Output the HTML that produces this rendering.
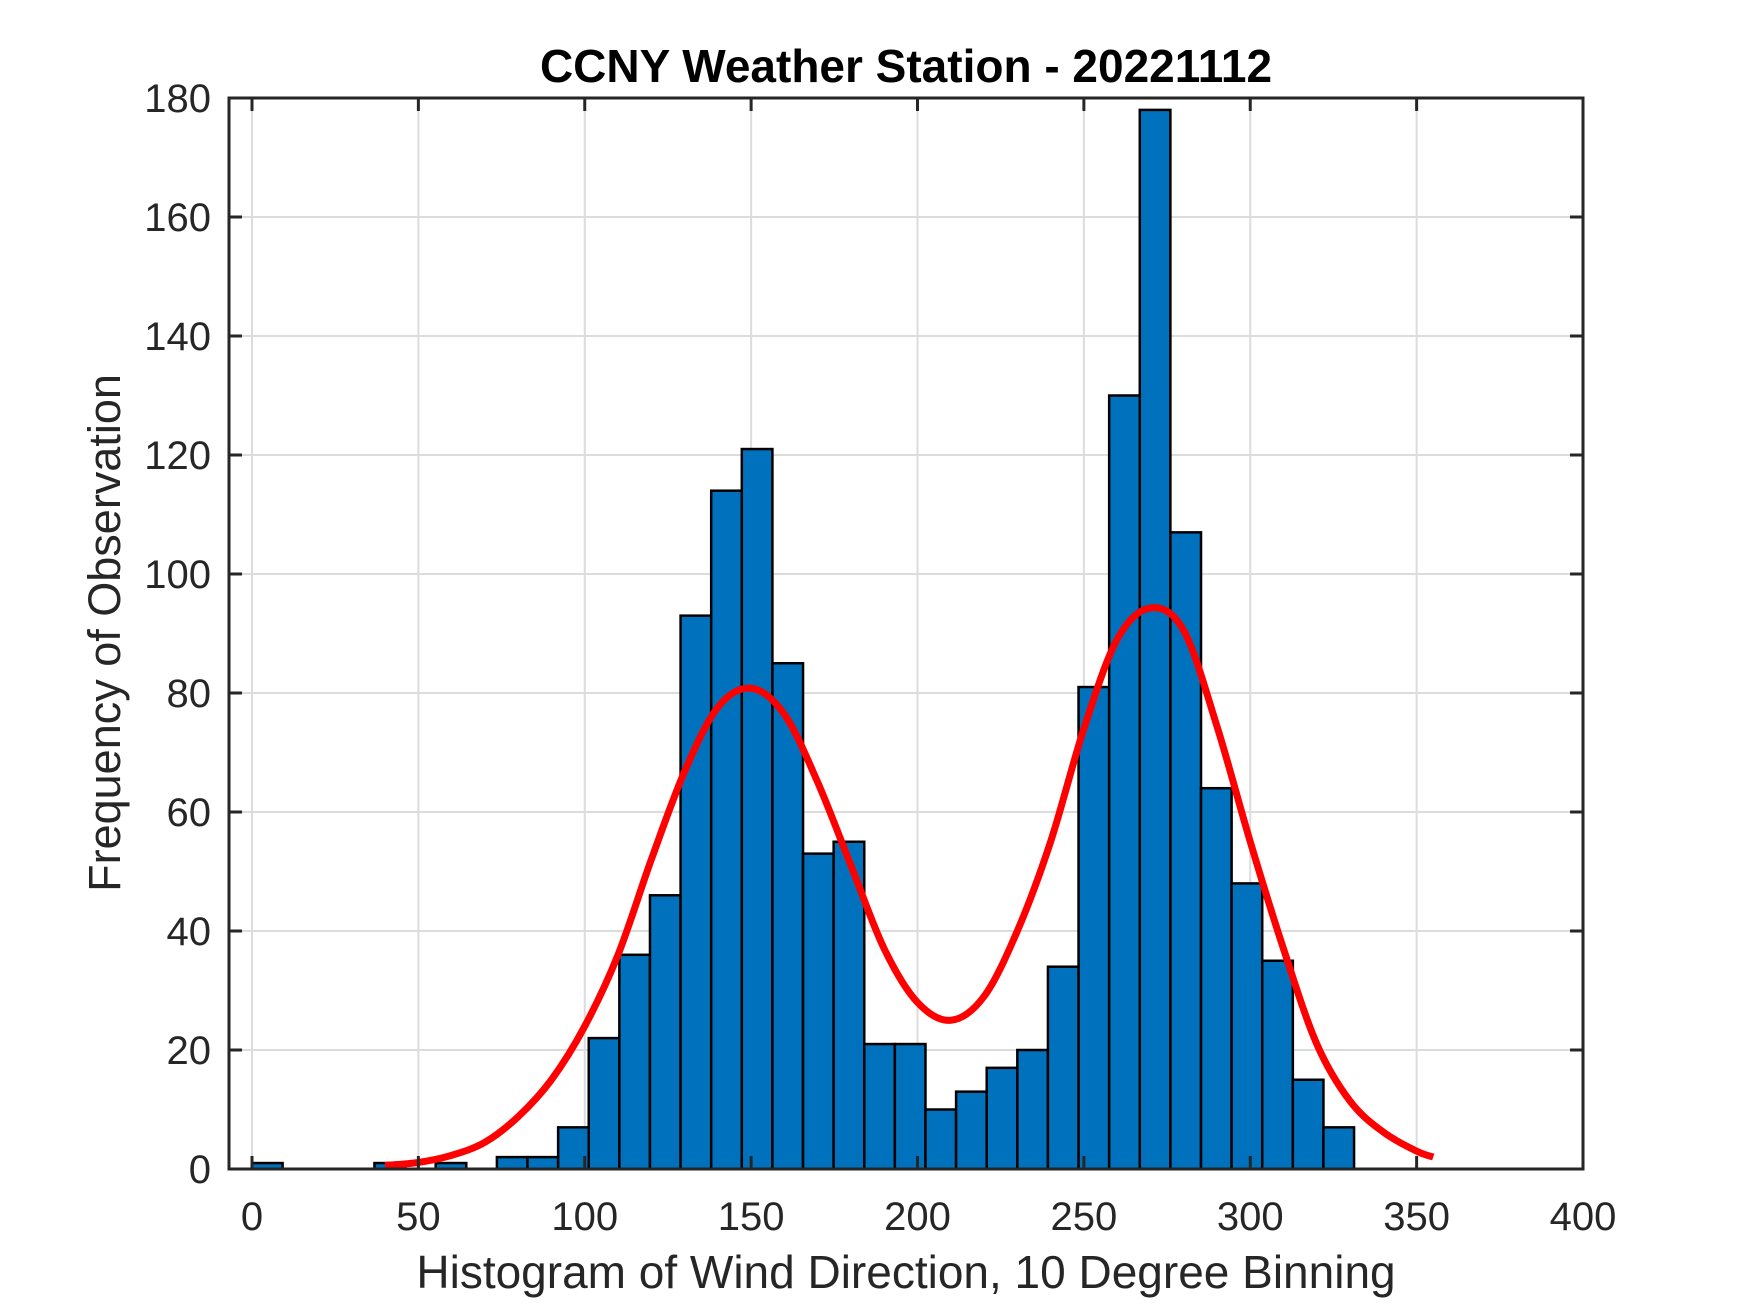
<!DOCTYPE html>
<html><head><meta charset="utf-8"><style>
html,body{margin:0;padding:0;background:#fff;}
svg{display:block;font-family:"Liberation Sans",Arial,sans-serif;}
</style></head><body>
<svg id="chart" width="1750" height="1313" viewBox="0 0 1750 1313" xmlns="http://www.w3.org/2000/svg">
<rect width="1750" height="1313" fill="#fff"/>
<g id="grid"></g><g id="bars"></g><g id="curve"></g><g id="axes"></g>
<text x="906" y="82" text-anchor="middle" font-size="46" font-weight="bold" fill="#000">CCNY Weather Station - 20221112</text>
<text x="906" y="1288" text-anchor="middle" font-size="46" fill="#262626">Histogram of Wind Direction, 10 Degree Binning</text>
<text x="0" y="0" transform="translate(120,633) rotate(-90)" text-anchor="middle" font-size="45" fill="#262626">Frequency of Observation</text>
</svg>
<script>
const binCounts=[1,0,0,0,1,0,1,0,2,2,7,22,36,46,93,114,121,85,53,55,21,21,10,13,17,20,34,81,130,178,107,64,48,35,15,7];
const binStart=0;
const binWidth=9.2;
const curveX=[40,50,60,70,80,90,100,110,120,130,140,150,160,170,180,190,200,210,220,230,240,250,260,270,280,290,300,310,320,330,340,350,355];
const curveY=[0.6,1.1,2.3,4.5,8.8,15,24,36,52,66.8,77.6,80.8,76.4,65,51,37,28,25,29,40,55,74,89,94.3,90.5,74.4,55,37,21,11.4,6.2,3,2];
const xTicks=[0,50,100,150,200,250,300,350,400];
const yTicks=[0,20,40,60,80,100,120,140,160,180];

const L=229,R=1583,T=98,B=1169;
const X0=252,XU=(1583-252)/400;
const sx=v=>X0+v*XU;
const sy=v=>B-(v/180)*(B-T);
const NS="http://www.w3.org/2000/svg";
function mk(tag,attrs,parent){const e=document.createElementNS(NS,tag);for(const k in attrs)e.setAttribute(k,attrs[k]);parent.appendChild(e);return e;}
const grid=document.getElementById('grid'),bars=document.getElementById('bars'),curve=document.getElementById('curve'),axes=document.getElementById('axes');

xTicks.forEach(t=>{
  const x=sx(t);
  if(t!==400){const g=mk('line',{x1:x,x2:x,y1:T,y2:B,stroke:'#dcdcdc','stroke-width':2},grid);
  
  }
  mk('line',{x1:x,x2:x,y1:B,y2:B-13,stroke:'#262626','stroke-width':3},axes);
  mk('line',{x1:x,x2:x,y1:T,y2:T+13,stroke:'#262626','stroke-width':3},axes);
  const tx=mk('text',{x:x,y:1230,'text-anchor':'middle','font-size':40,fill:'#262626'},axes);
  tx.textContent=t;
  
  
});
yTicks.forEach(t=>{
  const y=sy(t);
  if(t!==0&&t!==180){const g=mk('line',{x1:L,x2:R,y1:y,y2:y,stroke:'#dcdcdc','stroke-width':2},grid);
  
  }
  mk('line',{x1:L,x2:L+13,y1:y,y2:y,stroke:'#262626','stroke-width':3},axes);
  mk('line',{x1:R,x2:R-13,y1:y,y2:y,stroke:'#262626','stroke-width':3},axes);
  const tx=mk('text',{x:211,y:y+14,'text-anchor':'end','font-size':40,fill:'#262626'},axes);
  tx.textContent=t;
  
  
});
binCounts.forEach((c,i)=>{
  if(c<=0)return;
  const x1=sx(binStart+i*binWidth),x2=sx(binStart+(i+1)*binWidth);
  const r=mk('rect',{x:x1,y:sy(c),width:x2-x1,height:B-sy(c),fill:'#0072bd',stroke:'#000','stroke-width':2.5},bars);
  
  
});
const pts=curveX.map((v,i)=>[sx(v),sy(curveY[i])]);
let d='M'+pts[0][0]+','+pts[0][1];
for(let i=0;i<pts.length-1;i++){
  const p0=pts[Math.max(0,i-1)],p1=pts[i],p2=pts[i+1],p3=pts[Math.min(pts.length-1,i+2)];
  const c1=[p1[0]+(p2[0]-p0[0])/6,p1[1]+(p2[1]-p0[1])/6];
  const c2=[p2[0]-(p3[0]-p1[0])/6,p2[1]-(p3[1]-p1[1])/6];
  d+=' C'+c1+' '+c2+' '+p2;
}
const path=mk('path',{d:d,fill:'none',stroke:'#ff0000','stroke-width':7,'stroke-linejoin':'round'},curve);


const box=mk('rect',{x:L,y:T,width:R-L,height:B-T,fill:'none',stroke:'#262626','stroke-width':3},axes);


</script>
</body></html>
